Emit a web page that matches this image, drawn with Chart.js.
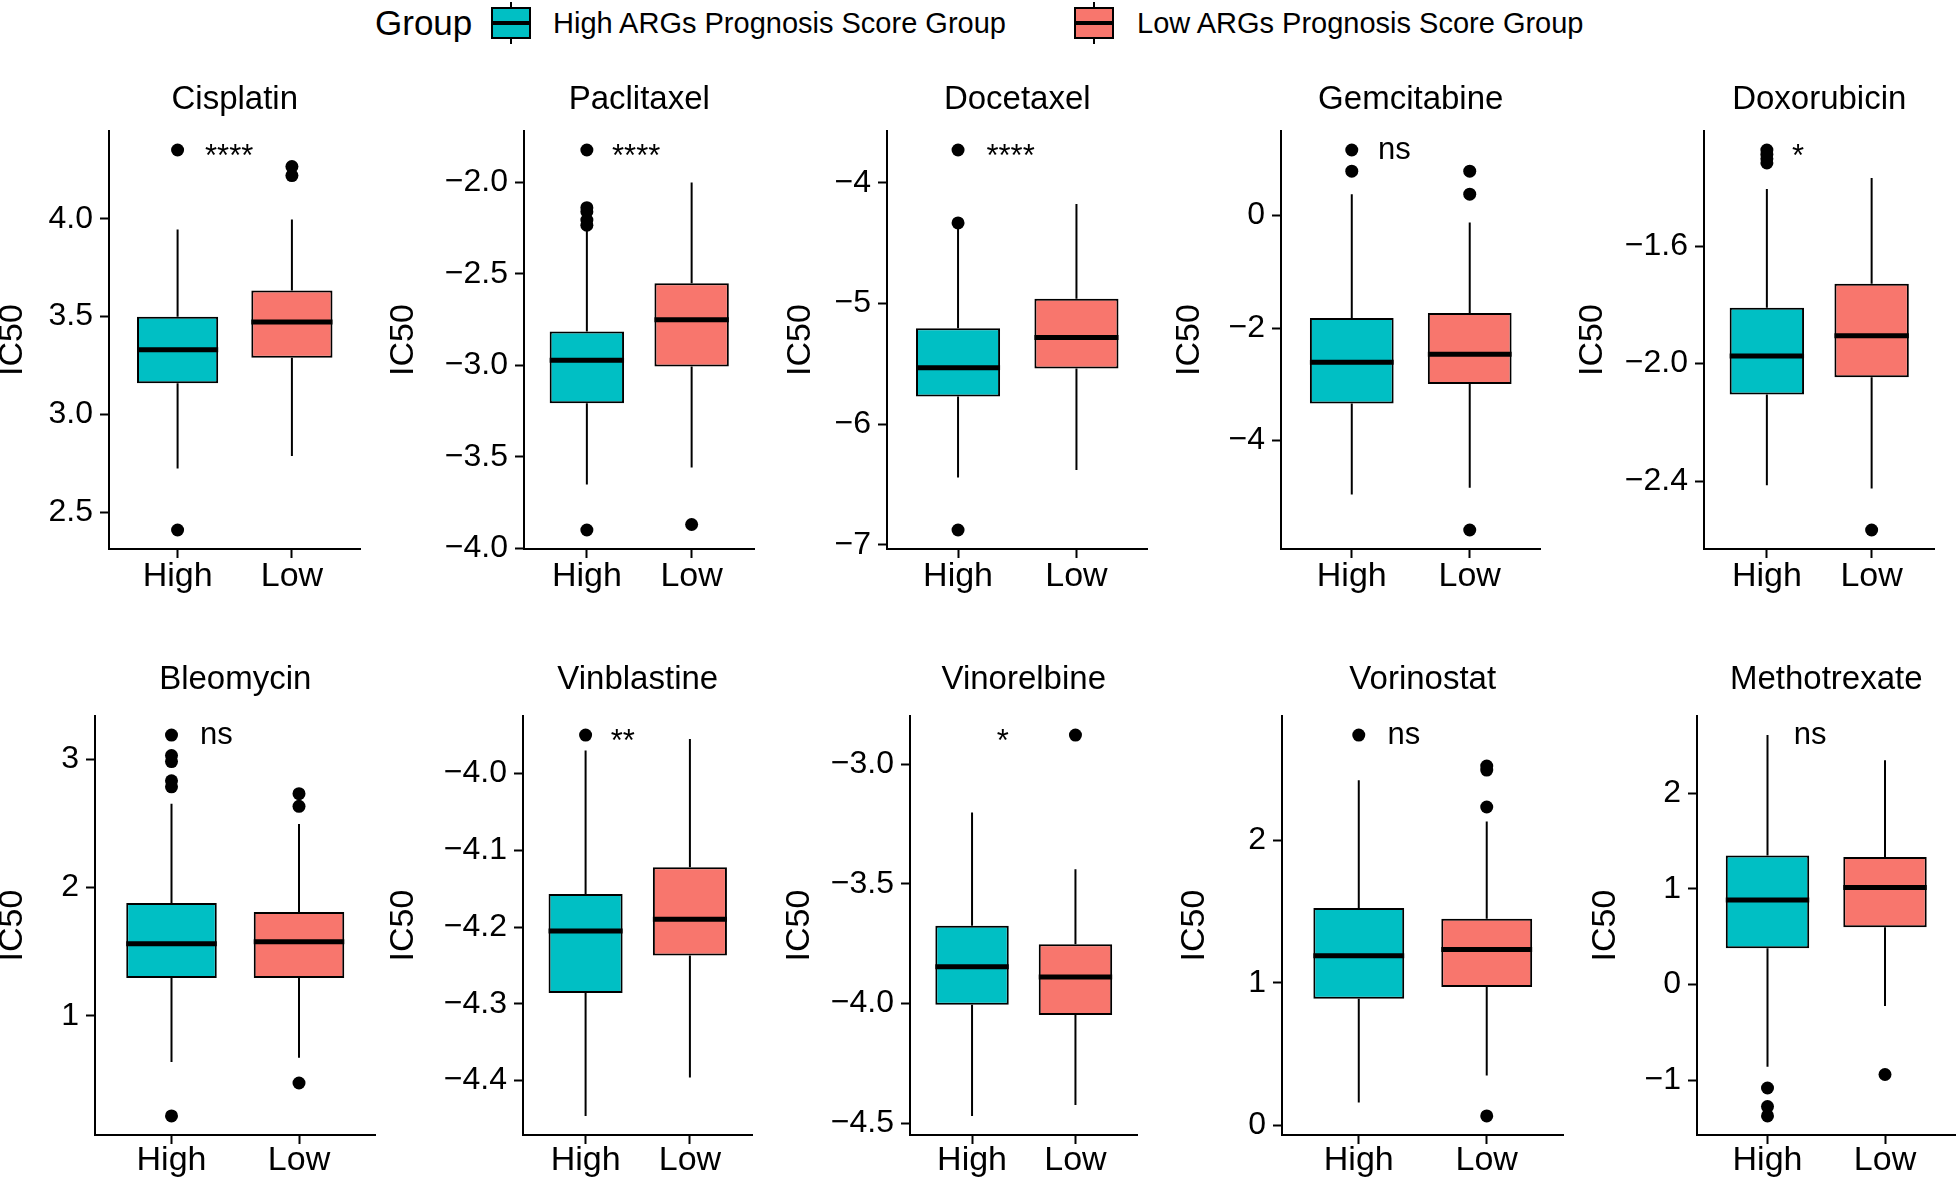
<!DOCTYPE html>
<html>
<head>
<meta charset="utf-8">
<script src="https://cdn.jsdelivr.net/npm/chart.js@4.4.1/dist/chart.umd.min.js"></script>
<style>
  body { margin: 0; background: #fff; width: 1959px; height: 1182px; position: relative; overflow: hidden;
         font-family: "Liberation Sans", Arial, sans-serif; color: #000; }
  canvas { position: absolute; }
  .leg-text { position: absolute; top: 0; height: 46px; line-height: 46px; white-space: nowrap; }
  .key { position: absolute; top: 0; width: 40px; height: 46px; }
  .key .wh { position: absolute; left: 19px; top: 2px; width: 2px; height: 42px; background: #000; }
  .key .bx { position: absolute; left: 0; top: 7px; width: 36px; height: 28px; border: 2px solid #000; }
  .key .md { position: absolute; left: 0; top: 21px; width: 40px; height: 4px; background: #000; }
</style>
</head>
<body>
<div id="legend"></div>
<script>
// ---- data ----
const drugs = ["Cisplatin", "Paclitaxel", "Docetaxel", "Gemcitabine", "Doxorubicin",
               "Bleomycin", "Vinblastine", "Vinorelbine", "Vorinostat", "Methotrexate"];
const groups = ["High", "Low"];
const groupLabels = ["High ARGs Prognosis Score Group", "Low ARGs Prognosis Score Group"];
const sigLabels = ["****", "****", "****", "ns", "*", "ns", "**", "*", "ns", "ns"];

// [lower whisker, Q1, median, Q3, upper whisker]
const highBox = [
  [2.724, 3.159, 3.331, 3.500, 3.945],
  [-3.650, -3.206, -2.971, -2.815, -2.253],
  [-6.443, -5.772, -5.532, -5.205, -4.380],
  [-4.960, -3.340, -2.609, -1.823, 0.378],
  [-2.414, -2.105, -1.974, -1.810, -1.406],
  [0.638, 1.294, 1.562, 1.879, 2.654],
  [-4.446, -4.286, -4.205, -4.157, -3.970],
  [-4.469, -4.005, -3.846, -3.675, -3.201],
  [0.163, 0.888, 1.190, 1.524, 2.419],
  [-0.859, 0.380, 0.884, 1.349, 2.606],
];
const lowBox = [
  [2.788, 3.290, 3.472, 3.634, 3.997],
  [-3.558, -3.006, -2.750, -2.551, -2.000],
  [-6.379, -5.540, -5.283, -4.962, -4.176],
  [-4.840, -2.993, -2.465, -1.733, -0.126],
  [-2.425, -2.046, -1.905, -1.728, -1.368],
  [0.672, 1.294, 1.577, 1.808, 2.496],
  [-4.396, -4.237, -4.190, -4.122, -3.955],
  [-4.423, -4.047, -3.889, -3.752, -3.439],
  [0.351, 0.971, 1.234, 1.449, 2.130],
  [-0.225, 0.599, 1.014, 1.331, 2.342],
];
const highOut = [
  [4.352, 2.409],
  [-1.823, -2.138, -2.160, -2.206, -2.234, -3.899],
  [-3.729, -4.333, -6.877],
  [1.163, 0.786],
  [-1.273, -1.288, -1.303, -1.317],
  [3.189, 3.029, 2.982, 2.832, 2.785, 0.218],
  [-3.950],
  [],
  [2.735],
  [-1.081, -1.275, -1.373],
];
const lowOut = [
  [4.267, 4.221],
  [-3.869],
  [],
  [0.786, 0.378, -5.589],
  [-2.566],
  [2.732, 2.633, 0.475],
  [],
  [-2.878],
  [2.518, 2.490, 2.231, 0.068],
  [-0.940],
];
const yTickLabels = [
  ["2.5", "3.0", "3.5", "4.0"],
  ["−4.0", "−3.5", "−3.0", "−2.5", "−2.0"],
  ["−7", "−6", "−5", "−4"],
  ["−4", "−2", "0"],
  ["−2.4", "−2.0", "−1.6"],
  ["1", "2", "3"],
  ["−4.4", "−4.3", "−4.2", "−4.1", "−4.0"],
  ["−4.5", "−4.0", "−3.5", "−3.0"],
  ["0", "1", "2"],
  ["−1", "0", "1", "2"],
];

// ---- layout ----
const FONT = '"Liberation Sans", Arial, sans-serif';
const COLORS = ["#00BFC4", "#F8766D"];
const TITLE_FS = 33, TICK_FS = 32, XLAB_FS = 34, YT_FS = 34, SIG_FS = 31;
const X_AXIS_H = 52;
const TICK_LEN = 9;
const BOX_W = 0.71;
const plotLeft  = [109, 524, 887, 1281, 1704, 95, 523, 910, 1282, 1697];
const plotRight = [364, 758, 1151, 1544, 1938, 379, 756, 1141, 1567, 1959];
const yTitleX   = [12, 403, 800, 1189, 1592, 12, 403, 799, 1194, 1605];
const rowTitleY = [100, 680];
const rowPlotTop = [131, 716];
const rowPlotBottom = [549, 1135];
const rowXPad = [-2, -4];

Chart.defaults.font.family = FONT;
Chart.defaults.color = "#000";

const toNum = (s) => Number(s.replace("−", "-"));

// significance label, placed at the top of the data like stat_compare_means
const sigPlugin = {
  id: "sig",
  afterDatasetsDraw(chart, args, opts) {
    const { ctx, scales: { x, y } } = chart;
    ctx.save();
    ctx.font = `${SIG_FS}px ${FONT}`;
    ctx.fillStyle = "#000";
    ctx.textAlign = "left";
    ctx.textBaseline = "alphabetic";
    const m = ctx.measureText(opts.text);
    const px = x.getPixelForValue(1.24) + m.actualBoundingBoxLeft;
    const py = y.getPixelForValue(opts.y) + (m.actualBoundingBoxAscent - m.actualBoundingBoxDescent) / 2;
    ctx.fillText(opts.text, px, py);
    ctx.restore();
  },
};

drugs.forEach((drug, i) => {
  const row = i < 5 ? 0 : 1;
  const stats = [highBox[i], lowBox[i]];
  const outs = [highOut[i], lowOut[i]];

  const all = stats.flat().concat(outs.flat());
  const dMin = Math.min(...all), dMax = Math.max(...all);
  const ext = (dMax - dMin) * 0.05;

  const lh = TITLE_FS * 1.2;
  const top = Math.round(rowTitleY[row] - lh / 2);
  const titlePad = rowPlotTop[row] - top - lh;
  const bottom = rowPlotBottom[row] + X_AXIS_H;
  const left = Math.round(yTitleX[i] - (YT_FS * 1.2) / 2);
  const right = plotRight[i] + 3;
  const yAxisW = plotLeft[i] - left;

  const canvas = document.createElement("canvas");
  canvas.width = right - left;
  canvas.height = bottom - top;
  canvas.style.left = left + "px";
  canvas.style.top = top + "px";
  canvas.style.width = canvas.width + "px";
  canvas.style.height = canvas.height + "px";
  document.body.appendChild(canvas);

  const whiskers = [], medians = [], points = [];
  stats.forEach((s, k) => {
    const x = k + 1;
    whiskers.push({ x, y: s[3] }, { x, y: s[4] }, { x, y: null },
                  { x, y: s[0] }, { x, y: s[1] }, { x, y: null });
    medians.push({ x: x - BOX_W / 2, y: s[2] }, { x: x + BOX_W / 2, y: s[2] }, { x, y: null });
    outs[k].forEach((v) => points.push({ x, y: v }));
  });

  const yTicks = yTickLabels[i].map(toNum);

  new Chart(canvas, {
    type: "bar",
    data: {
      datasets: [
        {
          type: "bar",
          data: stats.map((s, k) => ({ x: k + 1, y: [s[1], s[3]] })),
          backgroundColor: COLORS,
          borderColor: "#000",
          borderWidth: 2,
          borderSkipped: false,
          categoryPercentage: 1,
          barPercentage: BOX_W,
          order: 2,
        },
        {
          type: "line",
          data: whiskers,
          borderColor: "#000",
          borderWidth: 2,
          pointRadius: 0,
          spanGaps: false,
          order: 3,
        },
        {
          type: "line",
          data: medians,
          borderColor: "#000",
          borderWidth: 5,
          borderCapStyle: "butt",
          pointRadius: 0,
          spanGaps: false,
          order: 1,
        },
        {
          type: "scatter",
          data: points,
          pointRadius: 6.5,
          pointBackgroundColor: "#000",
          pointBorderWidth: 0,
          order: 0,
        },
      ],
    },
    options: {
      responsive: false,
      animation: false,
      devicePixelRatio: 1,
      events: [],
      layout: { padding: { left: 0, right: 3, top: 0, bottom: 0 } },
      scales: {
        x: {
          type: "linear",
          min: 0.4,
          max: 2.6,
          offset: false,
          afterBuildTicks: (s) => { s.ticks = groups.map((g, k) => ({ value: k + 1 })); },
          afterFit: (s) => { s.height = X_AXIS_H; },
          ticks: {
            autoSkip: false,
            maxRotation: 0,
            padding: rowXPad[row],
            font: { size: XLAB_FS },
            color: "#000",
            callback: (v, k) => groups[k],
          },
          grid: { offset: false, drawOnChartArea: false, drawTicks: true, tickLength: TICK_LEN, tickWidth: 2, tickColor: "#000" },
          border: { display: true, color: "#000", width: 2 },
        },
        y: {
          type: "linear",
          min: dMin - ext,
          max: dMax + ext,
          bounds: "data",
          afterBuildTicks: (s) => { s.ticks = yTicks.map((v) => ({ value: v })); },
          afterFit: (s) => { s.width = yAxisW; },
          ticks: {
            autoSkip: false,
            padding: 7,
            font: { size: TICK_FS },
            color: "#000",
            callback: (v, k) => yTickLabels[i][k],
          },
          grid: { drawOnChartArea: false, drawTicks: true, tickLength: TICK_LEN, tickWidth: 2, tickColor: "#000" },
          border: { display: true, color: "#000", width: 2 },
          title: { display: true, text: "IC50", font: { size: YT_FS }, color: "#000", padding: 0 },
        },
      },
      plugins: {
        legend: { display: false },
        tooltip: { enabled: false },
        title: {
          display: true,
          text: drug,
          fullSize: false,
          color: "#000",
          font: { size: TITLE_FS, weight: "normal" },
          padding: { top: 0, bottom: titlePad },
        },
        sig: { text: sigLabels[i], y: dMax },
      },
    },
    plugins: [sigPlugin],
  });
});

// ---- legend ----
const legend = document.getElementById("legend");
const legTitleLeft = 375;
const keyLeft = [491, 1074];
const labelLeft = [553, 1137];

const lt = document.createElement("span");
lt.className = "leg-text";
lt.style.left = legTitleLeft + "px";
lt.style.fontSize = "35px";
lt.textContent = "Group";
legend.appendChild(lt);

groupLabels.forEach((label, k) => {
  const key = document.createElement("div");
  key.className = "key";
  key.style.left = keyLeft[k] + "px";
  key.innerHTML = `<div class="wh"></div><div class="bx" style="background:${COLORS[k]}"></div><div class="md"></div>`;
  legend.appendChild(key);

  const t = document.createElement("span");
  t.className = "leg-text";
  t.style.left = labelLeft[k] + "px";
  t.style.fontSize = "29px";
  t.textContent = label;
  legend.appendChild(t);
});
</script>
</body>
</html>
